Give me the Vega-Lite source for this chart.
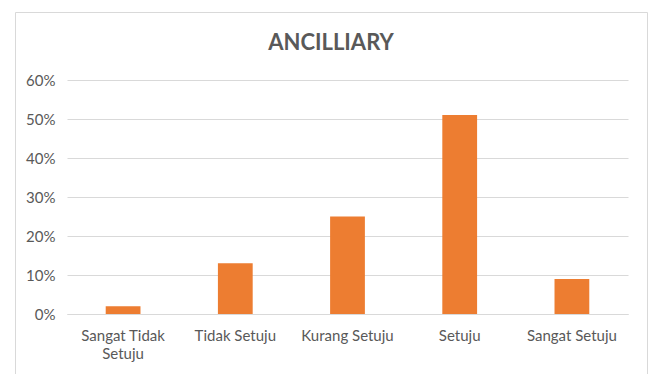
{
  "$schema": "https://vega.github.io/schema/vega-lite/v6.json",
  "width": 632,
  "height": 370,
  "autosize": "none",
  "padding": {"left": 15, "top": 12, "right": 4, "bottom": 0},
  "background": "white",
  "title": {
    "text": "ANCILLIARY",
    "font": "Lato",
    "fontSize": 22,
    "fontWeight": "bold",
    "color": "#595959",
    "anchor": "middle",
    "frame": "group",
    "baseline": "top",
    "offset": -43
  },
  "data": {
    "values": [
      {"response": "Sangat Tidak Setuju", "share": 0.02},
      {"response": "Tidak Setuju", "share": 0.13},
      {"response": "Kurang Setuju", "share": 0.25},
      {"response": "Setuju", "share": 0.51},
      {"response": "Sangat Setuju", "share": 0.09}
    ]
  },
  "mark": {"type": "bar", "color": "#ED7D31"},
  "encoding": {
    "x": {
      "field": "response",
      "type": "nominal",
      "sort": null,
      "scale": {"range": [52, 613], "paddingInner": 0.69, "paddingOuter": 0.345},
      "axis": {
        "title": null,
        "offset": -68,
        "labelAngle": 0,
        "labelPadding": 14,
        "labelFont": "Lato",
        "labelFontSize": 15,
        "labelColor": "#595959",
        "labelLineHeight": 18,
        "labelExpr": "datum.value == 'Sangat Tidak Setuju' ? ['Sangat Tidak', 'Setuju'] : datum.value",
        "ticks": false,
        "domainColor": "#d9d9d9",
        "grid": false
      }
    },
    "y": {
      "field": "share",
      "type": "quantitative",
      "scale": {"domain": [0, 0.6], "range": [302, 68], "nice": false},
      "axis": {
        "title": null,
        "offset": -52,
        "format": "%",
        "values": [0, 0.1, 0.2, 0.3, 0.4, 0.5, 0.6],
        "labelPadding": 12,
        "labelFont": "Lato",
        "labelFontSize": 15,
        "labelColor": "#595959",
        "ticks": false,
        "domain": false,
        "grid": true,
        "gridColor": "#d9d9d9"
      }
    }
  },
  "config": {"view": {"stroke": "#d9d9d9"}}
}
